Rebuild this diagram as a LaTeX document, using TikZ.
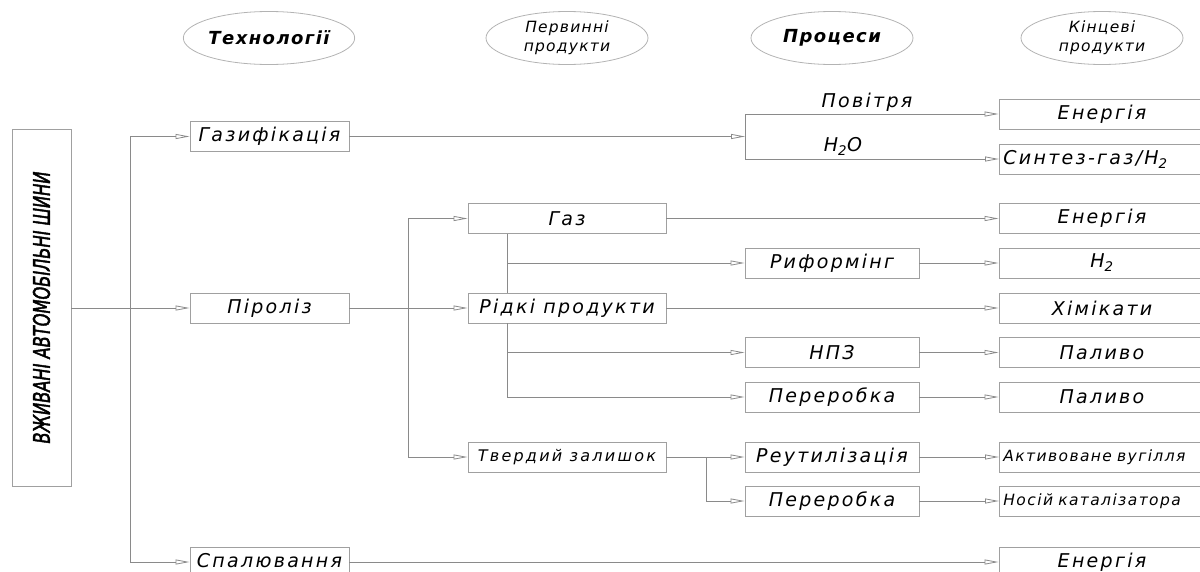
\documentclass[tikz,border=0pt]{standalone}
\usepackage{fontspec}
\setmainfont{DejaVu Sans}
\newfontfamily\gost{DejaVu Sans}[LetterSpace=12]
\newfontfamily\gostn{DejaVu Sans}[LetterSpace=14]
\newfontfamily\gosta{DejaVu Sans}[LetterSpace=9]
\newfontfamily\gostt{DejaVu Sans}[LetterSpace=8]
\usetikzlibrary{arrows.meta,shapes.geometric}
\definecolor{ln}{HTML}{8A8A8A}
\definecolor{bx}{HTML}{A0A0A0}
\tikzset{
 box/.style={draw=bx, line width=0.9pt, fill=white, minimum height=30pt, inner sep=0pt, font=\gost\itshape\fontsize{19}{22}\selectfont},
 col1/.style={box, minimum width=159pt},
 col2/.style={box, minimum width=198pt},
 col3/.style={box, minimum width=174pt},
 col4/.style={box, minimum width=206pt},
 lbox/.style={anchor=west, text width=240pt, align=left, inner xsep=4pt},
 small/.style={font=\gostn\itshape\fontsize{16}{18}\selectfont},
 smaller/.style={font=\gosta\itshape\fontsize{15.5}{18}\selectfont},
 head/.style={ellipse, draw=bx!80, line width=0.8pt, minimum width=162pt, minimum height=53pt, inner sep=0pt, align=center},
 htitle/.style={font=\gostt\bfseries\itshape\fontsize{18}{21}\selectfont},
 hsub/.style={font=\gostt\itshape\fontsize{15.5}{19}\selectfont},
 conn/.style={draw=ln, line width=0.8pt},
 arr/.style={conn, -{Triangle[open, length=14pt, width=5pt]}},
 lab/.style={font=\gost\itshape\fontsize{19}{22}\selectfont},
}
\begin{document}
\begin{tikzpicture}[x=1pt,y=-1pt]
\useasboundingbox (0,0) rectangle (1200,571);
\clip (0,0) rectangle (1200,571);
% headers
\node[head, htitle] (h1) at (269,38) {Технології};
\node[head, hsub] (h2) at (567,38) {Первинні\\продукти};
\node[head, htitle] (h3) at (832,38) {Процеси};
\node[head, hsub] (h4) at (1102,38) {Кінцеві\\продукти};
% source
\node[draw=bx, line width=0.9pt, rotate=90, minimum width=357pt, minimum height=59pt, inner sep=0pt] (src) at (41.5,307.5)
  {\resizebox{272pt}{17pt}{\fontsize{23}{26}\selectfont\addfontfeature{FakeBold=2.5}\itshape ВЖИВАНІ АВТОМОБІЛЬНІ ШИНИ}};
% technologies
\node[col1] (gaz) at (269.5,136.5) {Газифікація};
\node[col1] (pir) at (269.5,308) {Піроліз};
\node[col1] (spal) at (269.5,562) {\raisebox{3pt}{Спалювання}};
% primary products
\node[col2] (gas) at (567,218.5) {Газ};
\node[col2] (liq) at (567,308) {Рідкі продукти};
\node[col2, small] (solid) at (567,457) {Твердий залишок};
% processes
\node[col3] (ref) at (832,263) {Риформінг};
\node[col3] (npz) at (832,352.5) {НПЗ};
\node[col3] (per1) at (832,397) {Переробка};
\node[col3] (reut) at (832,457) {Реутилізація};
\node[col3] (per2) at (832,501) {Переробка};
% final products
\node[col4] (en1) at (1102,114) {Енергія};
\node[col4, lbox] (syn) at (999,159) {Синтез-газ/H\textsubscript{2}};
\node[col4] (en2) at (1102,218.5) {Енергія};
\node[col4] (h2o) at (1102,263) {H\textsubscript{2}};
\node[col4] (chem) at (1102,308) {Хімікати};
\node[col4] (fuel1) at (1102,352.5) {Паливо};
\node[col4] (fuel2) at (1102,397) {Паливо};
\node[col4, lbox, smaller] (act) at (999,457) {Активоване вугілля};
\node[col4, lbox, smaller] (cat) at (999,501) {Носій каталізатора};
\node[col4] (en3) at (1102,562) {\raisebox{3pt}{Енергія}};
% labels
\node[lab] (air) at (867,102) {Повітря};
\node[lab] (wat) at (843,146) {H\textsubscript{2}O};
% junction coordinates
\coordinate (tt) at (130,136.5);
\coordinate (tb) at (130,562);
\coordinate (brk) at (745,136.5);
\coordinate (j1) at (408,218.5);
\coordinate (j2) at (408,308);
\coordinate (j3) at (408,457);
\coordinate (g1) at (507,263);
\coordinate (g2) at (507,352.5);
\coordinate (g3) at (507,397);
\coordinate (s1) at (706,457);
\coordinate (s2) at (706,501);
% connectors
\draw[arr] (src.south |- pir.west) -- (pir.west);
\draw[conn] (tt) -- (tb);
\draw[arr] (tt) -- (gaz.west);
\draw[arr] (tb) -- (spal.west);
\draw[arr] (gaz.east) -- (brk);
\draw[arr] (brk) |- (en1.west);
\draw[arr] (brk) |- (syn.west);
\draw[conn] (pir.east) -- (j2);
\draw[conn] (j1) -- (j3);
\draw[arr] (j1) -- (gas.west);
\draw[arr] (j2) -- (liq.west);
\draw[arr] (j3) -- (solid.west);
\draw[conn] (gas.south -| g1) -- (liq.north -| g1);
\draw[conn] (liq.south -| g1) -- (g3);
\draw[arr] (g1) -- (ref.west);
\draw[arr] (g2) -- (npz.west);
\draw[arr] (g3) -- (per1.west);
\draw[arr] (gas.east) -- (en2.west);
\draw[arr] (liq.east) -- (chem.west);
\draw[arr] (ref.east) -- (h2o.west);
\draw[arr] (npz.east) -- (fuel1.west);
\draw[arr] (per1.east) -- (fuel2.west);
\draw[arr] (solid.east) -- (reut.west);
\draw[conn] (s1) -- (s2);
\draw[arr] (s2) -- (per2.west);
\draw[arr] (reut.east) -- (act.west);
\draw[arr] (per2.east) -- (cat.west);
\draw[arr] (spal.east) -- (en3.west);
\end{tikzpicture}
\end{document}
